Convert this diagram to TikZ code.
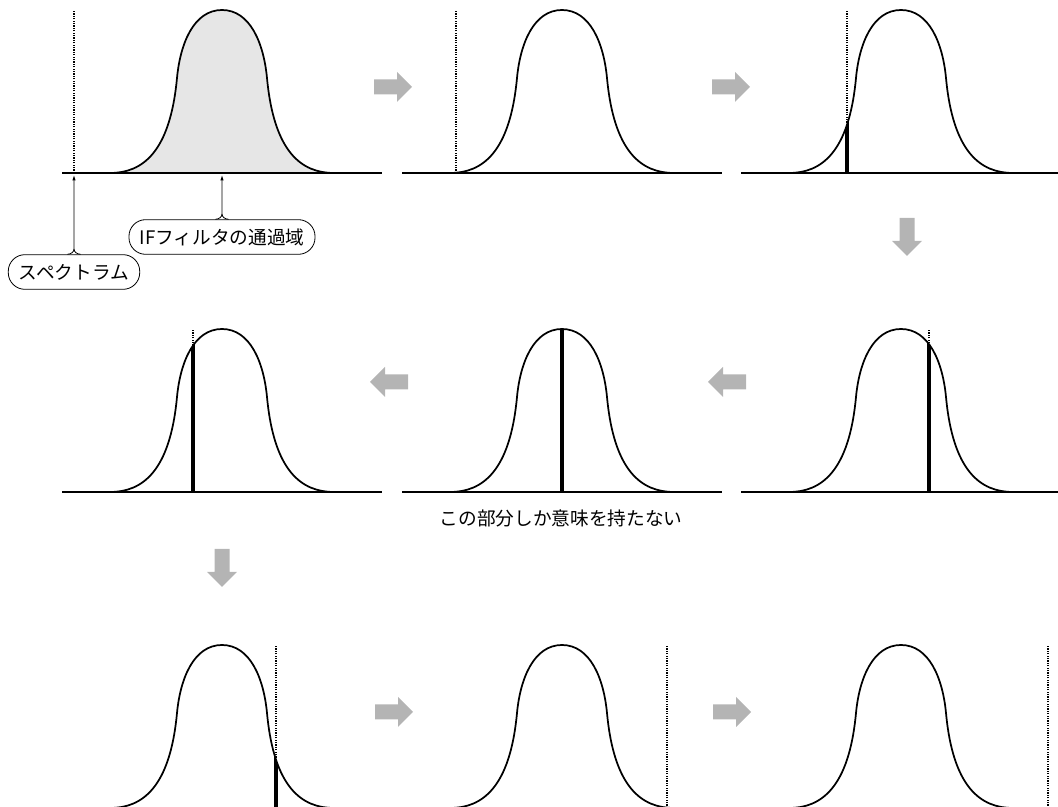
\documentclass[tikz,border=0pt]{standalone}
\usepackage{fontspec}
\setmainfont{Noto Sans CJK JP}
\usepackage{xcolor}
\usepackage{tikz}
\usetikzlibrary{arrows.meta}

\definecolor{arrowgray}{RGB}{180,180,180}
\definecolor{bandgray}{RGB}{230,230,230}
% 通過域の形 (中心 0, 基線 0)
\def\bellpath{(-112,0) .. controls (-80,0) and (-52,20) .. (-45,95) .. controls (-41.7,130) and (-28,163) .. (0,163) .. controls (28,163) and (41.7,130) .. (45,95) .. controls (52,20) and (80,0) .. (112,0)}

\begin{document}
\begin{tikzpicture}[x=0.75pt, y=0.75pt, font=\fontsize{14}{16}\selectfont,
    bell/.style={black, line width=1.3pt},
    axis/.style={black, line width=1.3pt},
    spectrum/.style={black, line width=0.9pt, dash pattern=on 0.9pt off 0.9pt},
    hit/.style={black, line width=3pt},
    callout/.style={draw, line width=0.6pt, rounded corners=12.5pt, inner xsep=8pt, inner ysep=0pt, minimum height=26pt},
    pointer/.style={line width=0.6pt, -{Latex[length=4pt, width=2.5pt]}},
    flowarrow/.pic={\fill[arrowgray] (-19,-7.5) -- (4,-7.5) -- (4,-15) -- (19,0) -- (4,15) -- (4,7.5) -- (-19,7.5) -- cycle;}]
    \useasboundingbox (0,0) rectangle (1058,807);
    \clip (0,0) rectangle (1058,807);

    % 1. 9 つのパネル: 中心, 基線, スペクトラムの位置, 塗り
    \foreach \cx/\by/\off/\bg in {222/634/-148/bandgray, 562/634/-106/white, 901/634/-54/white,
        901/315/28/white, 562/315/0/white, 222/315/-29/white,
        222/-1/54/white, 562/-1/105/white, 901/-1/147/white}{
      \begin{scope}[shift={(\cx,\by)}]
        \draw[spectrum] (\off,0) -- (\off,163);
        \fill[\bg] \bellpath -- cycle;
        \begin{scope}
          \clip \bellpath -- cycle;
          \draw[hit] (\off,0) -- (\off,163);
        \end{scope}
        \draw[bell] \bellpath;
        \draw[axis] (-160,0) -- (160,0);
      \end{scope}
    }

    % 2. 灰色の矢印
    \pic at (393,720) {flowarrow};
    \pic at (731,720) {flowarrow};
    \pic[rotate=-90] at (907,570) {flowarrow};
    \pic[rotate=180] at (727,425) {flowarrow};
    \pic[rotate=180] at (389,425) {flowarrow};
    \pic[rotate=-90] at (222,239) {flowarrow};
    \pic at (394,95) {flowarrow};
    \pic at (732,95) {flowarrow};

    % 3. ラベル
    \node[callout] (spec) at (74,535) {スペクトラム};
    \node[callout] (ifband) at (222,570) {IFフィルタの通過域};
    \coordinate (spectip) at (74,632);
    \coordinate (iftip) at (222,632);
    \draw[pointer] ([xshift=-5pt]spec.north) to[out=0, in=-90] ([yshift=4pt]spec.north) -- (spectip);
    \draw[line width=0.6pt] ([xshift=5pt]spec.north) to[out=180, in=-90] ([yshift=4pt]spec.north);
    \draw[pointer] ([xshift=-5pt]ifband.north) to[out=0, in=-90] ([yshift=4pt]ifband.north) -- (iftip);
    \draw[line width=0.6pt] ([xshift=5pt]ifband.north) to[out=180, in=-90] ([yshift=4pt]ifband.north);

    \node (onlypart) at (561,289) {この部分しか意味を持たない};
\end{tikzpicture}
\end{document}
